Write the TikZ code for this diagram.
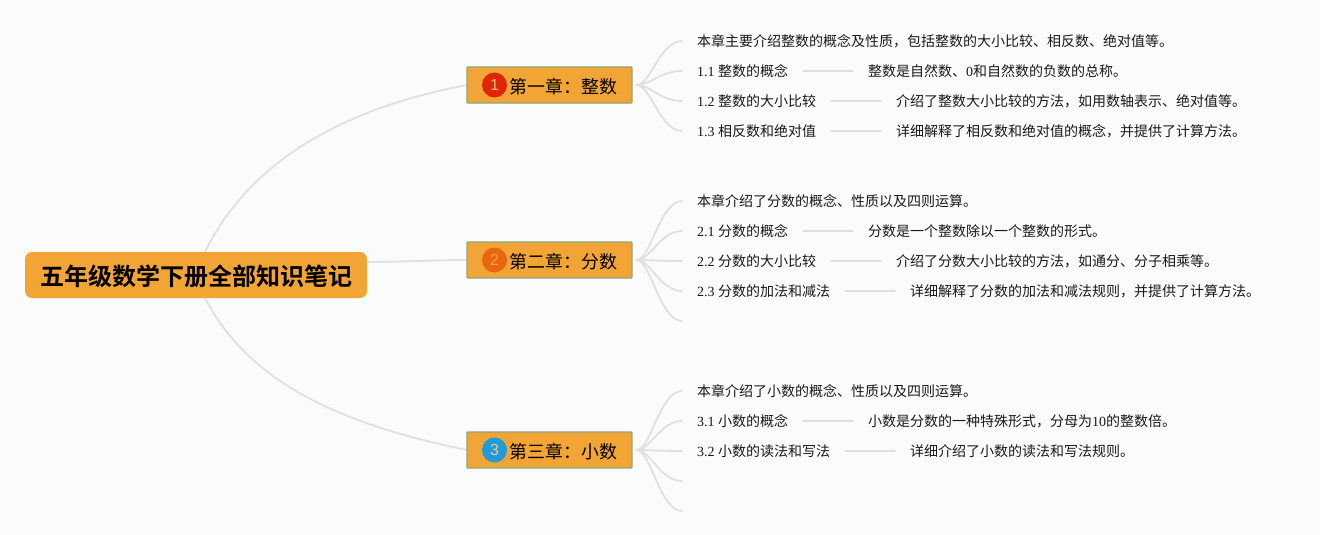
\documentclass[tikz,border=0pt]{standalone}
\usepackage{fontspec}
\setmainfont{Liberation Serif}
\newfontfamily\cjk{Noto Sans CJK SC}
\newfontfamily\cjkb{Noto Sans CJK SC Bold}
\newfontfamily\dig{Liberation Sans}
\newcommand{\zh}[1]{{\cjk #1}}
\usetikzlibrary{calc}
\definecolor{bgc}{HTML}{FBFBFB}
\definecolor{linec}{HTML}{E0E0E0}
\definecolor{boxc}{HTML}{F2A535}
\definecolor{edgec}{HTML}{8FA87A}
\definecolor{redc}{HTML}{E0260A}
\definecolor{orgc}{HTML}{E8660F}
\definecolor{bluc}{HTML}{1F9BD8}
\tikzset{
  x=1pt,y=-1pt,
  link/.style={draw=linec,line width=1.8pt,line cap=round},
  rootbox/.style={fill=boxc,rounded corners=7pt,minimum width=342pt,minimum height=46pt,inner sep=0pt},
  roottext/.style={inner sep=0pt,font=\fontsize{24}{24}\selectfont\cjkb,text=black},
  chapbox/.style={fill=boxc,draw=edgec,line width=1.2pt,rounded corners=0.8pt,minimum width=165pt,minimum height=36pt,inner sep=0pt},
  chaptext/.style={inner sep=0pt,anchor=west,font=\fontsize{17.9}{18}\selectfont\cjk,text=black},
  badge/.style={circle,minimum size=25pt,inner sep=0pt,font=\fontsize{16}{16}\selectfont\dig},
  leaf/.style={inner sep=0pt,anchor=west,font=\fontsize{14}{14}\selectfont,text height=11pt,text depth=2pt,text=black!90},
}
\begin{document}
\begin{tikzpicture}
\useasboundingbox (0,0) rectangle (1320,535);
\fill[bgc] (0,0) rectangle (1320,535);

\coordinate (rt) at (205,252);
\coordinate (rb) at (205,298);
\coordinate (rr) at (367,262);
\coordinate (c1w) at (467,85);
\coordinate (c2w) at (467,260);
\coordinate (c3w) at (467,450);
\draw[link] (rt) .. controls (250,160) and (345,108) .. (c1w);
\draw[link] (rr) .. controls (400,262) and (435,260) .. (c2w);
\draw[link] (rb) .. controls (250,385) and (345,425) .. (c3w);

\node[rootbox] (root) at (196,275) {};
\node[roottext] (roottxt) at (196.5,276.5) {五年级数学下册全部知识笔记};

\node[chapbox] (c1) at (549.5,85) {};
\node[chapbox] (c2) at (549.5,260) {};
\node[chapbox] (c3) at (549.5,450) {};
\node[badge,fill=redc,text=boxc!70!white] (b1) at (494.5,85) {1};
\node[badge,fill=orgc,text=boxc] (b2) at (494.5,260) {2};
\node[badge,fill=bluc,text=boxc!60!white] (b3) at (494.5,450) {3};
\node[chaptext] (t1) at (509.5,87) {第一章：整数};
\node[chaptext] (t2) at (509.5,262) {第二章：分数};
\node[chaptext] (t3) at (509.5,452) {第三章：小数};

\node[leaf] (a0) at (697,42) {\zh{本章主要介绍整数的概念及性质，包括整数的大小比较、相反数、绝对值等。}};
\node[leaf] (a1) at (697,72) {1.1 \zh{整数的概念}};
\node[leaf] (a2) at (697,102) {1.2 \zh{整数的大小比较}};
\node[leaf] (a3) at (697,132) {1.3 \zh{相反数和绝对值}};
\node[leaf] (a1d) at (868,72) {\zh{整数是自然数、}0\zh{和自然数的负数的总称。}};
\node[leaf] (a2d) at (896,102) {\zh{介绍了整数大小比较的方法，如用数轴表示、绝对值等。}};
\node[leaf] (a3d) at (896,132) {\zh{详细解释了相反数和绝对值的概念，并提供了计算方法。}};
\coordinate (a0e) at (682,41);
\coordinate (a1e) at (682,71);
\coordinate (a2e) at (682,101);
\coordinate (a3e) at (682,131);

\node[leaf] (f0) at (697,202) {\zh{本章介绍了分数的概念、性质以及四则运算。}};
\node[leaf] (f1) at (697,232) {2.1 \zh{分数的概念}};
\node[leaf] (f2) at (697,262) {2.2 \zh{分数的大小比较}};
\node[leaf] (f3) at (697,292) {2.3 \zh{分数的加法和减法}};
\node[leaf] (f1d) at (868,232) {\zh{分数是一个整数除以一个整数的形式。}};
\node[leaf] (f2d) at (896,262) {\zh{介绍了分数大小比较的方法，如通分、分子相乘等。}};
\node[leaf] (f3d) at (910,292) {\zh{详细解释了分数的加法和减法规则，并提供了计算方法。}};
\coordinate (f0e) at (682,201);
\coordinate (f1e) at (682,231);
\coordinate (f2e) at (682,261);
\coordinate (f3e) at (682,291);
\coordinate (f4e) at (682,321);

\node[leaf] (d0) at (697,392) {\zh{本章介绍了小数的概念、性质以及四则运算。}};
\node[leaf] (d1) at (697,422) {3.1 \zh{小数的概念}};
\node[leaf] (d2) at (697,452) {3.2 \zh{小数的读法和写法}};
\node[leaf] (d1d) at (868,422) {\zh{小数是分数的一种特殊形式，分母为}10\zh{的整数倍。}};
\node[leaf] (d2d) at (910,452) {\zh{详细介绍了小数的读法和写法规则。}};
\coordinate (d0e) at (682,391);
\coordinate (d1e) at (682,421);
\coordinate (d2e) at (682,451);
\coordinate (d3e) at (682,481);
\coordinate (d4e) at (682,511);

\foreach \p/\q in {c1/a0e,c1/a1e,c1/a2e,c1/a3e,c2/f0e,c2/f1e,c2/f2e,c2/f3e,c2/f4e,c3/d0e,c3/d1e,c3/d2e,c3/d3e,c3/d4e}{
  \draw[link] ($(\p.east)+(4,0)$) .. controls ($(\p.east)+(18,0)$) and ($(\q)+(-22,0)$) .. (\q);
}
\foreach \p/\q in {a1/a1d,a2/a2d,a3/a3d,f1/f1d,f2/f2d,f3/f3d,d1/d1d,d2/d2d}{
  \draw[link,line width=1.4pt] ($(\p.west -| \q.west)+(-65,-1)$) -- ($(\p.west -| \q.west)+(-15,-1)$);
}
\end{tikzpicture}
\end{document}
